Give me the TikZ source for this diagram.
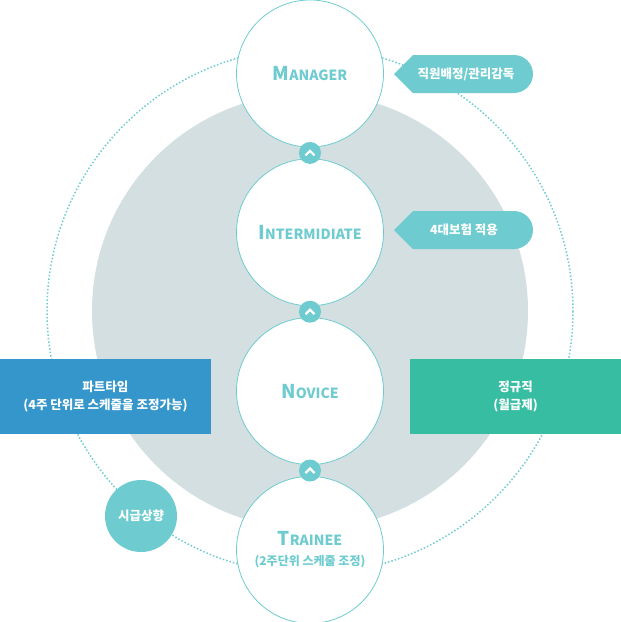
\documentclass[tikz,border=0pt]{standalone}
\usepackage{fontspec}
\setmainfont{Noto Sans CJK KR}
\usetikzlibrary{positioning, calc}

\definecolor{tealmain}{HTML}{6ECCD0}
\definecolor{grayring}{HTML}{D3DFE0}
\definecolor{bluebox}{HTML}{3596CC}
\definecolor{greenbox}{HTML}{36BDA2}

% small caps made by hand
\newcommand{\stagecap}[2]{{\fontsize{19}{20}\selectfont #1}{\fontsize{14}{20}\selectfont #2}}

\tikzset{
    stage/.style={circle, draw=tealmain, line width=0.8pt, fill=white, minimum size=147pt, inner sep=0pt, text=tealmain, font=\bfseries\fontsize{12}{20}\selectfont, align=center},
    chevron/.style={circle, fill=tealmain, minimum size=22pt, inner sep=0pt},
    tagtext/.style={text=white, font=\bfseries\fontsize{12.5}{14}\selectfont},
    sidebox/.style={minimum width=211pt, minimum height=75pt, inner sep=0pt, text=white, align=center, font=\bfseries\fontsize{12.5}{18}\selectfont},
}

\begin{document}
\begin{tikzpicture}[x=1pt, y=-1pt]
    \useasboundingbox (0,0) rectangle (621,622);

    % Background rings
    \fill[grayring] (310,311) circle (218);
    \draw[tealmain, line width=1.5pt, dash pattern=on 1.5pt off 2pt] (310,311) circle (263);

    % Stages
    \node[stage] (manager) at (310,73.5) {\stagecap{M}{ANAGER}};
    \node[stage, below=11pt of manager] (intermediate) {\stagecap{I}{NTERMIDIATE}};
    \node[stage, below=11pt of intermediate] (novice) {\stagecap{N}{OVICE}};
    \node[stage, below=11pt of novice] (trainee) {\stagecap{T}{RAINEE}\\(2주단위 스케줄 조정)};

    % Up arrows between stages
    \foreach \lo/\hi/\n in {intermediate/manager/upa, novice/intermediate/upb, trainee/novice/upc} {
        \node[chevron] (\n) at ($(\hi.south)!0.5!(\lo.north)$) {};
        \draw[white, line width=2.2pt] ($(\n)+(-4.5,2.5)$) -- ($(\n)+(0,-2)$) -- ($(\n)+(4.5,2.5)$);
    }

    % Tags on the right
    \fill[tealmain] (394,74) -- (413,55) -- (514,55) arc (-90:90:19) -- (413,93) -- cycle;
    \node[tagtext] (tagmanager) at (466,74) {직원배정/관리감독};
    \fill[tealmain] (394,230) -- (413,211) -- (514,211) arc (-90:90:19) -- (413,249) -- cycle;
    \node[tagtext] (tagintermediate) at (464,230) {4대보험 적용};

    % Side boxes
    \node[sidebox, fill=bluebox] (parttime) at (105.5,396.5) {파트타임\\(4주 단위로 스케줄을 조정가능)};
    \node[sidebox, fill=greenbox] (fulltime) at (515.5,396.5) {정규직\\(월급제)};

    % Wage circle
    \node[circle, fill=tealmain, minimum size=72pt, inner sep=0pt, tagtext] (wage) at (141,516) {시급상향};

\end{tikzpicture}
\end{document}
